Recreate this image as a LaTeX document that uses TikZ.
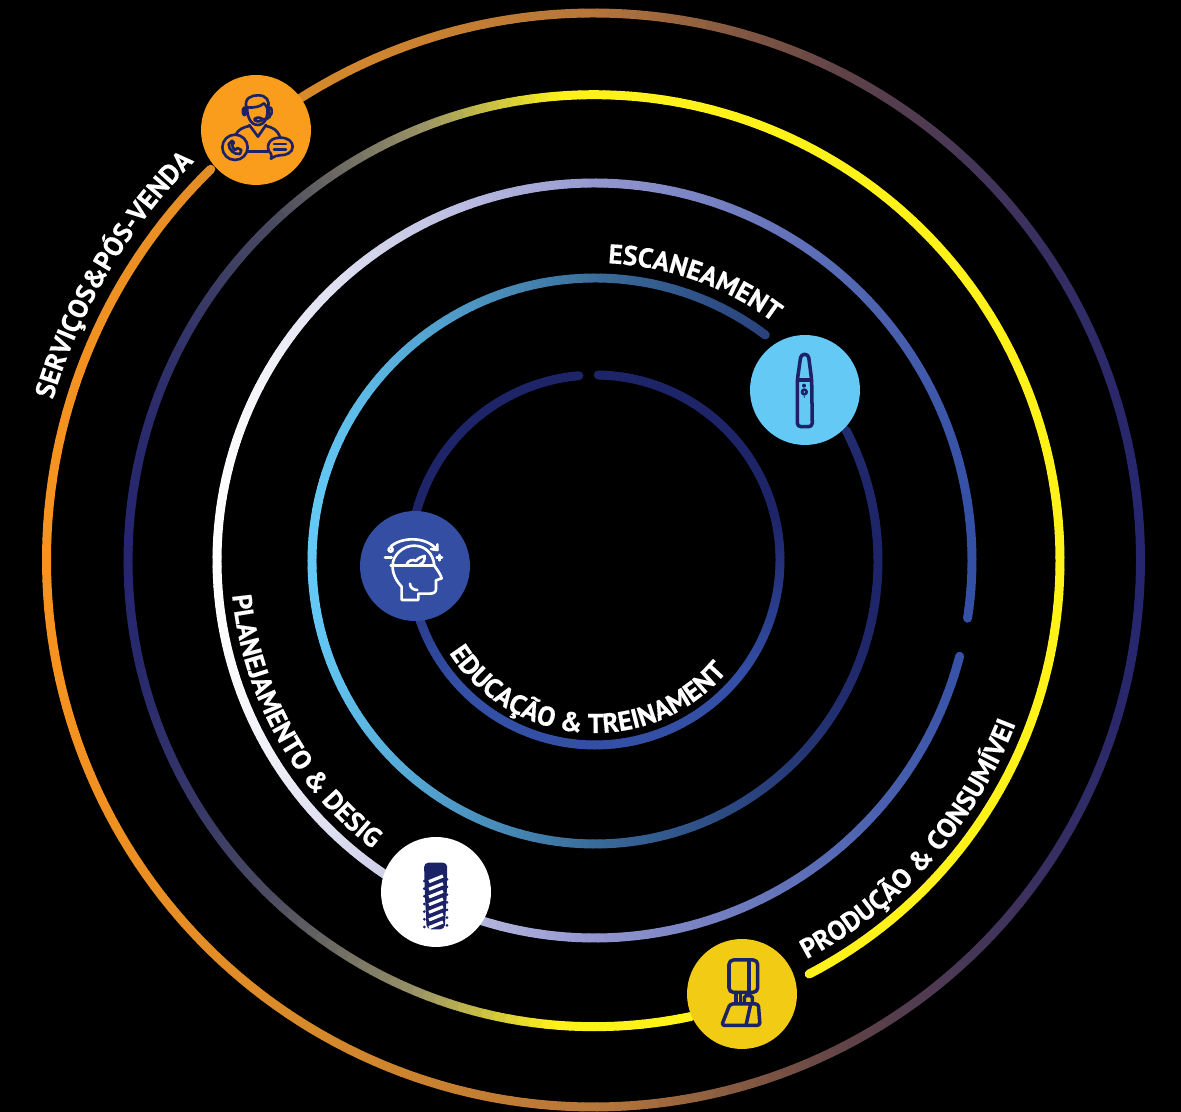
\documentclass[tikz,border=0pt]{standalone}
\usepackage{fontspec}
\setmainfont{PT Sans}
\newfontfamily\arcfont[UprightFont=* Bold,FakeBold=0.4]{PT Sans}
\usetikzlibrary{decorations.text}
\definecolor{iconnavy}{HTML}{1C2266}
\newcommand\segmix[5]{\pgfmathsetmacro\mixt{max(0,min(1,(#1-#2)/(#3-#2)))*100}\colorlet{segc}{#5!\mixt!#4}}
\definecolor{ra}{HTML}{1E2468}\definecolor{rc}{HTML}{334FA6}
\definecolor{sa}{HTML}{64C9F5}\definecolor{sb}{HTML}{3A6C9A}\definecolor{sc}{HTML}{1E2468}
\definecolor{ta}{HTML}{FFFFFF}\definecolor{tb}{HTML}{9497CF}\definecolor{tc}{HTML}{3450A5}
\definecolor{ua}{HTML}{25266E}\definecolor{ub}{HTML}{4A4A60}\definecolor{uc}{HTML}{9A9468}\definecolor{ud}{HTML}{FFF21A}
\definecolor{va}{HTML}{F59220}\definecolor{vb}{HTML}{D88A2A}\definecolor{vc}{HTML}{B5763A}\definecolor{vd}{HTML}{5E4248}\definecolor{ve}{HTML}{25266E}
\newcommand\colone[2]{\segmix{#2}{432}{592}{rc}{ra}}
\newcommand\coltwo[2]{\ifdim#1pt<595pt\segmix{#1}{312}{595}{sa}{sb}\else\segmix{#1}{595}{878}{sb}{sc}\fi}
\newcommand\colthree[2]{\ifdim#1pt<594pt\segmix{#1}{217}{594}{ta}{tb}\else\segmix{#1}{594}{972}{tb}{tc}\fi}
\newcommand\colfour[2]{\ifdim#1pt<270pt\segmix{#1}{127}{270}{ua}{ub}\else\ifdim#1pt<420pt\segmix{#1}{270}{420}{ub}{uc}\else\segmix{#1}{420}{560}{uc}{ud}\fi\fi}
\newcommand\colfive[2]{\ifdim#1pt<300pt\segmix{#1}{60}{300}{va}{vb}\else\ifdim#1pt<600pt\segmix{#1}{300}{600}{vb}{vc}\else\ifdim#1pt<850pt\segmix{#1}{600}{850}{vc}{vd}\else\segmix{#1}{850}{1142}{vd}{ve}\fi\fi\fi}
\newcommand\ringarc[6]{%
 \pgfmathsetmacro\ndiv{int(abs(#5-#4)/1.5)+1}%
 \foreach \i in {1,...,\ndiv}{%
  \pgfmathsetmacro\anga{#4+(#5-#4)*((\i-1)/\ndiv)}%
  \pgfmathsetmacro\angb{#4+(#5-#4)*(\i/\ndiv)}%
  \pgfmathsetmacro\angm{(\anga+\angb)/2}%
  \pgfmathsetmacro\px{#1+#3*cos(\angm)}%
  \pgfmathsetmacro\py{#2+#3*sin(\angm)}%
  #6{\px}{\py}%
  \draw[ringline,draw=segc] (#1,#2) ++(\anga:#3) arc (\anga:\angb:#3);
 }}
\newcommand\arctext{\arcfont\fontsize{15.5pt}{15.5pt}\selectfont\color{white}}
\tikzset{
 ringline/.style={line width=5.1pt,line cap=round},
 badge/.style={circle,minimum size=2.2cm,inner sep=0pt,draw=none},
 inkdark/.style={draw=iconnavy,line width=1.5pt,line cap=round,line join=round},
 inkfat/.style={draw=iconnavy,line width=2pt,line cap=round,line join=round},
 inkwhite/.style={draw=white,line width=1.5pt,line cap=round,line join=round},
}
\definecolor{cservice}{HTML}{FA9D1C}
\definecolor{cscanner}{HTML}{64C9F5}
\definecolor{ceducation}{HTML}{334EA2}
\definecolor{cproduction}{HTML}{F2CB15}
\begin{document}
\begin{tikzpicture}[x=0.02cm,y=0.02cm]
\useasboundingbox (0,0) rectangle (1181,1112);
\fill[black] (0,0) rectangle (1181,1112);
% rings (y is 1112 - image y)
\ringarc{595}{552}{185}{89}{-265}{\colone}
\ringarc{595}{551}{283}{53}{387.5}{\coltwo}
\ringarc{594.5}{551.5}{377.5}{-8.8}{345.3}{\colthree}
\ringarc{594}{551.3}{466}{-62.5}{282}{\colfour}
\ringarc{593.5}{552}{547}{124}{-225.6}{\colfive}
% badges
\node[badge,fill=cservice] (service) at (256,982) {};
\node[badge,fill=cscanner] (scanner) at (805,722) {};
\node[badge,fill=ceducation] (education) at (415,546) {};
\node[badge,fill=white] (implant) at (436,220) {};
\node[badge,fill=cproduction] (production) at (742,118) {};
% curved labels
\path[decorate,decoration={text along path,text align=fit to path,text={|\arctext|ESCANEAMENTO}}] (595,551) ++(87.5:298) arc (87.5:51.5:298);
\path[decorate,decoration={text along path,text align=fit to path,text={|\arctext|EDUCAÇÃO {\&} TREINAMENTO}}] (595,552) ++(212.5:173) arc (212.5:321:173);
\path[decorate,decoration={text along path,text align=fit to path,text={|\arctext|PLANEJAMENTO {\&} DESIGN}}] (594.5,551.5) ++(185.5:364) arc (185.5:233.5:364);
\path[decorate,decoration={text along path,text align=fit to path,text={|\arctext|SERVIÇOS{\&}PÓS-VENDA}}] (593.5,552) ++(163.5:564) arc (163.5:135.5:564);
\path[decorate,decoration={text along path,text align=fit to path,text={|\arctext|PRODUÇÃO {\&} CONSUMÍVEIS}}] (594.5,552) ++(-62:452) arc (-62:-21:452);
% icon: person with headset
\begin{scope}[shift={(190,1042)},x=0.02cm/3,y=-0.02cm/3]
\draw[inkdark] (170,115) .. controls (160,85) and (185,75) .. (205,76) .. controls (228,76) and (242,92) .. (233,115);
\draw[inkdark] (172,112) .. controls (195,114) and (210,110) .. (222,100) .. controls (227,105) and (230,110) .. (232,115);
\draw[inkdark] (172,112) .. controls (170,135) and (180,165) .. (203,165) .. controls (225,165) and (235,140) .. (232,115);
\draw[inkdark,rounded corners=1.2pt] (159,113) rectangle (168,135);
\draw[inkdark,rounded corners=1.2pt] (236,113) rectangle (245,135);
\draw[inkdark] (241,135) .. controls (240,145) and (228,148) .. (216,148);
\draw[inkdark,rounded corners=1.5pt] (194,143) rectangle (216,154);
\draw[inkdark] (178,165) -- (204,200) -- (228,165);
\draw[inkdark] (138,193) .. controls (145,178) and (160,172) .. (178,168);
\draw[inkdark] (228,168) .. controls (248,172) and (262,180) .. (270,200);
\draw[inkdark] (172,245) -- (234,245);
\draw[inkdark] (135,232) circle[radius=38];
\draw[inkdark] (116,222) .. controls (116,240) and (132,254) .. (150,252) -- (154,240) -- (142,234) -- (136,240) .. controls (130,236) and (128,232) .. (126,224) -- (132,218) -- (126,212) -- cycle;
\draw[inkdark] (270,203) .. controls (295,203) and (308,215) .. (308,230) .. controls (308,248) and (290,256) .. (270,256) .. controls (262,256) and (255,258) .. (243,266) .. controls (245,258) and (245,255) .. (242,250) .. controls (228,238) and (230,203) .. (270,203) -- cycle;
\draw[inkdark] (252,222) -- (288,222) (252,238) -- (288,238);
\end{scope}
% icon: scanner
\begin{scope}[shift={(740,787)},x=0.02cm/3,y=-0.02cm/3]
\draw[inkfat,rounded corners=2pt] (183,88) -- (205,88) -- (215,165) -- (217,305) -- (172,305) -- (172,165) -- cycle;
\draw[inkfat] (174,165) -- (214,165);
\fill[iconnavy] (192,182) circle[radius=6];
\draw[inkdark] (193,201) circle[radius=7];
\fill[iconnavy] (193,216) circle[radius=2.5];
\end{scope}
% icon: head
\begin{scope}[shift={(350,607)},x=0.02cm/3,y=-0.02cm/3]
\draw[inkwhite] (122,181) -- (250,181);
\draw[inkwhite] (128,181) .. controls (128,150) and (160,122) .. (192,122) .. controls (225,122) and (250,145) .. (253,182) .. controls (262,195) and (272,208) .. (275,220) -- (258,226) -- (258,252) .. controls (258,262) and (250,266) .. (240,266) -- (205,266) -- (205,285) -- (155,285) -- (155,245) .. controls (140,230) and (126,205) .. (128,181);
\draw[inkwhite] (180,236) .. controls (180,248) and (190,255) .. (202,255);
\draw[inkwhite] (170,178) .. controls (175,165) and (190,162) .. (198,168) .. controls (205,158) and (215,155) .. (224,153) .. controls (225,165) and (220,175) .. (210,178);
\draw[inkwhite] (122,125) .. controls (150,98) and (225,90) .. (262,135);
\draw[inkwhite] (243,132) -- (262,135) -- (262,118);
\draw[inkwhite,fill=ceducation] (122,134) circle[radius=6];
\draw[inkwhite] (105,158) -- (125,158);
\draw[inkwhite] (268,150) -- (268,166) (260,158) -- (276,158);
\end{scope}
% icon: implant
\begin{scope}[shift={(370,282)},x=0.02cm/3,y=-0.02cm/3]
\fill[iconnavy,rounded corners=2.5pt] (162,98) -- (232,98) -- (230,200) -- (224,298) -- (170,298) -- (165,200) -- cycle;
\foreach \yy in {135,158,181,204,227,250,273}{
 \draw[white,line width=1.8pt] (177,{\yy+20}) -- (219,{\yy+3});
 \fill[iconnavy] (163,{\yy+18}) circle[radius=4.5];
 \fill[iconnavy] (231,{\yy+13}) circle[radius=4.5];
}
\end{scope}
% icon: production unit
\begin{scope}[shift={(680,182)},x=0.02cm/3,y=-0.02cm/3]
\draw[inkfat,rounded corners=2.5pt] (147,90) rectangle (233,187);
\draw[inkfat] (207,90) -- (207,187);
\draw[inkfat] (168,187) -- (168,220) (181,187) -- (181,220);
\draw[inkfat,rounded corners=1pt] (193,220) -- (193,197) -- (217,197) -- (217,220);
\draw[inkfat,rounded corners=1.5pt] (150,222) -- (235,222) -- (240,286) -- (125,286) -- cycle;
\draw[inkfat] (212,222) -- (198,286);
\end{scope}
\end{tikzpicture}
\end{document}
